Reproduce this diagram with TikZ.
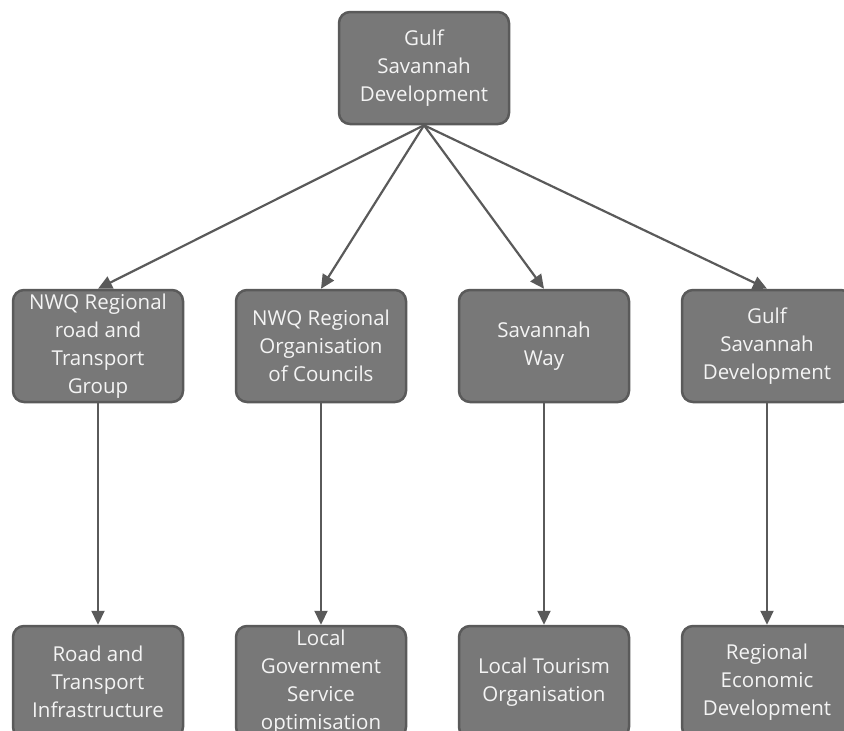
\documentclass[tikz,border=0pt]{standalone}
\usepackage{fontspec}
\setmainfont{Open Sans}
\usetikzlibrary{arrows.meta, positioning}
\definecolor{boxfill}{HTML}{787878}
\definecolor{boxline}{HTML}{5A5A5A}
\definecolor{boxtext}{HTML}{F4F4F4}

\begin{document}
\begin{tikzpicture}[x=1pt, y=-1pt,
      box/.style={rectangle, rounded corners=11pt, draw=boxline, line width=2.5pt, fill=boxfill,
        text=boxtext, align=center, minimum width=170pt, minimum height=112pt, inner sep=0pt,
        font=\fontsize{20.5}{28}\selectfont},
      link/.style={-{Triangle[length=14pt, width=13pt]}, line width=2.2pt, draw=boxline, fill=boxline}]

      \useasboundingbox (0,0) rectangle (844,731);

      % Top level
      \node[box] (top) at (424,68) {Gulf\\Savannah\\Development};

      % Second row
      \node[box] (road) at (98,346) {NWQ Regional\\road and\\Transport\\Group};
      \node[box] (council) at (321,346) {NWQ Regional\\Organisation\\of Councils};
      \node[box] (way) at (544,346) {Savannah\\Way};
      \node[box] (gulf) at (767,346) {Gulf\\Savannah\\Development};

      % Third row
      \node[box] (infra) at (98,682) {Road and\\Transport\\Infrastructure};
      \node[box] (govt) at (321,682) {Local\\Government\\Service\\optimisation};
      \node[box] (tourism) at (544,682) {Local Tourism\\Organisation};
      \node[box] (econ) at (767,682) {Regional\\Economic\\Development};

      % Links
      \foreach \mid/\low in {road/infra, council/govt, way/tourism, gulf/econ} {
        \draw[link] (top.south) -- (\mid.north);
        \draw[link] (\mid.south) -- (\low.north);
      }
    \end{tikzpicture}
\end{document}
